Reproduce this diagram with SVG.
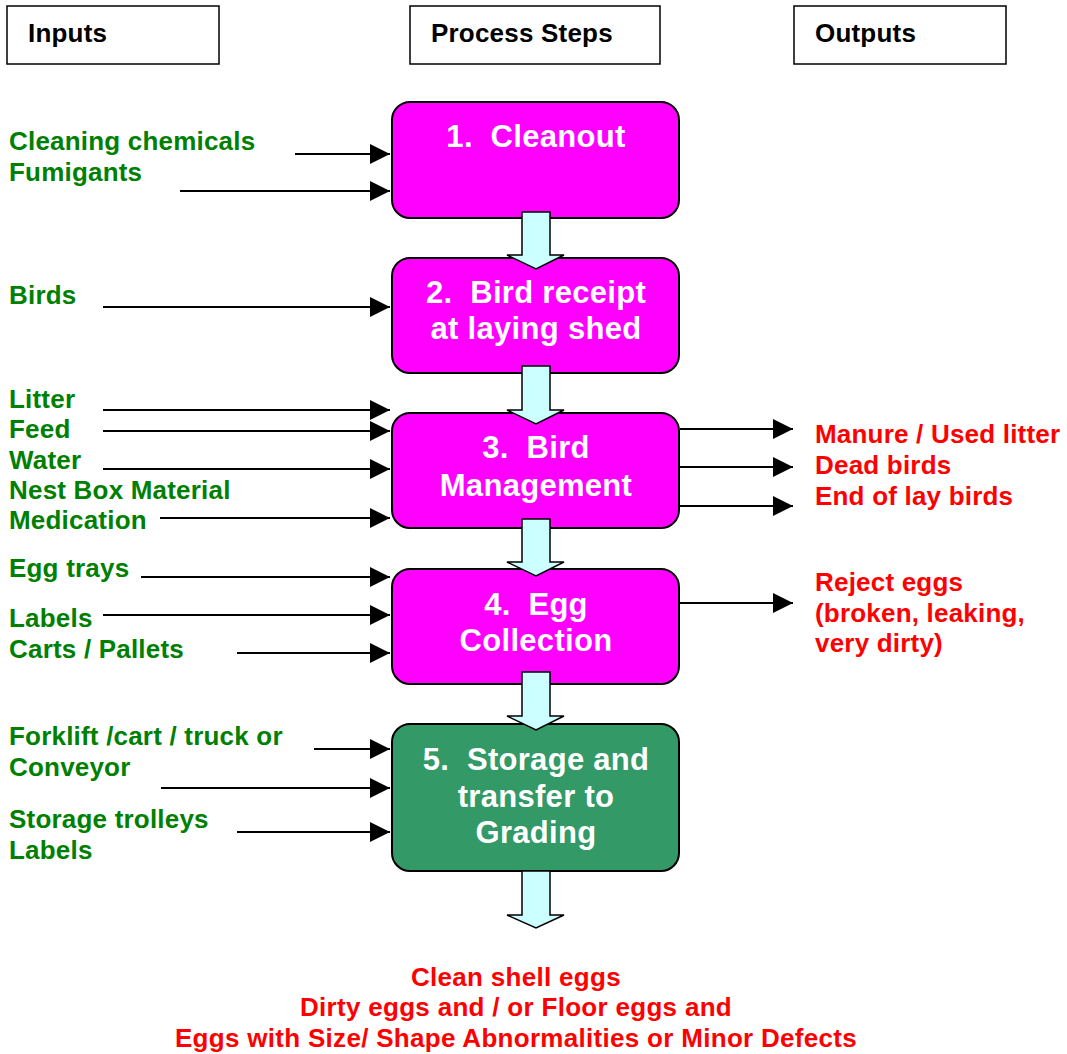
<svg xmlns="http://www.w3.org/2000/svg" width="1067" height="1054" viewBox="0 0 1067 1054">
  <style>
    text { font-family: "Liberation Sans", Arial, sans-serif; font-weight: bold; }
    .hdr-box { fill: #ffffff; stroke: #000000; stroke-width: 1.5; }
    .hdr { font-size: 26px; letter-spacing: 0.2px; fill: #000000; }
    .step { stroke: #000000; stroke-width: 2; }
    .pink { fill: #ff00ff; }
    .dkgreen { fill: #339966; }
    .step-text { font-size: 31px; letter-spacing: 0.3px; fill: #ffffff; text-anchor: middle; }
    .in { font-size: 26px; letter-spacing: 0.2px; fill: #008000; }
    .out { font-size: 26px; letter-spacing: 0.2px; fill: #ff0000; }
    .final { font-size: 26px; letter-spacing: 0.3px; fill: #ff0000; text-anchor: middle; }
    .link { stroke: #000000; stroke-width: 2; fill: none; marker-end: url(#head); }
    .flow { fill: #ccffff; stroke: #000000; stroke-width: 1.5; stroke-linejoin: miter; }
  </style>
  <defs>
    <marker id="head" markerUnits="userSpaceOnUse" markerWidth="20" markerHeight="20" refX="20" refY="10" orient="auto">
      <path d="M0,0 L20,10 L0,20 z" fill="#000000"/>
    </marker>
  </defs>

  <!-- column headings -->
  <g id="heading-inputs">
    <rect class="hdr-box" x="7" y="6" width="212" height="58"/>
    <text class="hdr" x="28" y="42">Inputs</text>
  </g>
  <g id="heading-steps">
    <rect class="hdr-box" x="410" y="6" width="250" height="58"/>
    <text class="hdr" x="431" y="42">Process Steps</text>
  </g>
  <g id="heading-outputs">
    <rect class="hdr-box" x="794" y="6" width="212" height="58"/>
    <text class="hdr" x="815" y="42">Outputs</text>
  </g>

  <!-- process steps -->
  <g id="step-1">
    <rect class="step pink" x="392" y="102" width="287" height="116" rx="18"/>
    <text class="step-text" x="536" y="147">1.&#160; Cleanout</text>
  </g>
  <g id="step-2">
    <rect class="step pink" x="392" y="258" width="287" height="115" rx="18"/>
    <text class="step-text" x="536" y="303">2.&#160; Bird receipt</text>
    <text class="step-text" x="536" y="339">at laying shed</text>
  </g>
  <g id="step-3">
    <rect class="step pink" x="392" y="413" width="287" height="115" rx="18"/>
    <text class="step-text" x="536" y="458">3.&#160; Bird</text>
    <text class="step-text" x="536" y="496">Management</text>
  </g>
  <g id="step-4">
    <rect class="step pink" x="392" y="569" width="287" height="115" rx="18"/>
    <text class="step-text" x="536" y="615">4.&#160; Egg</text>
    <text class="step-text" x="536" y="651">Collection</text>
  </g>
  <g id="step-5">
    <rect class="step dkgreen" x="392" y="724" width="287" height="147" rx="18"/>
    <text class="step-text" x="536" y="770">5.&#160; Storage and</text>
    <text class="step-text" x="536" y="807">transfer to</text>
    <text class="step-text" x="536" y="843">Grading</text>
  </g>

  <!-- inputs -->
  <g id="inputs">
    <text class="in" x="9" y="150">Cleaning chemicals</text>
    <text class="in" x="9" y="181">Fumigants</text>
    <text class="in" x="9" y="304">Birds</text>
    <text class="in" x="9" y="408">Litter</text>
    <text class="in" x="9" y="438">Feed</text>
    <text class="in" x="9" y="469">Water</text>
    <text class="in" x="9" y="499">Nest Box Material</text>
    <text class="in" x="9" y="529">Medication</text>
    <text class="in" x="9" y="577">Egg trays</text>
    <text class="in" x="9" y="627">Labels</text>
    <text class="in" x="9" y="658">Carts / Pallets</text>
    <text class="in" x="9" y="745">Forklift /cart / truck or</text>
    <text class="in" x="9" y="776">Conveyor</text>
    <text class="in" x="9" y="828">Storage trolleys</text>
    <text class="in" x="9" y="859">Labels</text>
  </g>

  <!-- outputs -->
  <g id="outputs">
    <text class="out" x="815" y="443">Manure / Used litter</text>
    <text class="out" x="815" y="474">Dead birds</text>
    <text class="out" x="815" y="505">End of lay birds</text>
    <text class="out" x="815" y="591">Reject eggs</text>
    <text class="out" x="815" y="622">(broken, leaking,</text>
    <text class="out" x="815" y="652">very dirty)</text>
  </g>

  <!-- final products -->
  <g id="final-products">
    <text class="final" x="516" y="986">Clean shell eggs</text>
    <text class="final" x="516" y="1016">Dirty eggs and / or Floor eggs and</text>
    <text class="final" x="516" y="1047">Eggs with Size/ Shape Abnormalities or Minor Defects</text>
  </g>

  <!-- connectors -->
  <g id="connectors">
    <line class="link" x1="295" y1="154" x2="390" y2="154"/>
    <line class="link" x1="180" y1="191" x2="390" y2="191"/>
    <line class="link" x1="103" y1="307" x2="390" y2="307"/>
    <line class="link" x1="103" y1="410" x2="390" y2="410"/>
    <line class="link" x1="103" y1="431" x2="390" y2="431"/>
    <line class="link" x1="103" y1="469" x2="390" y2="469"/>
    <line class="link" x1="160" y1="518" x2="390" y2="518"/>
    <line class="link" x1="141" y1="577" x2="390" y2="577"/>
    <line class="link" x1="103" y1="615" x2="390" y2="615"/>
    <line class="link" x1="237" y1="653" x2="390" y2="653"/>
    <line class="link" x1="314" y1="749" x2="390" y2="749"/>
    <line class="link" x1="161" y1="788" x2="390" y2="788"/>
    <line class="link" x1="237" y1="832" x2="390" y2="832"/>

    <line class="link" x1="680" y1="429" x2="793" y2="429"/>
    <line class="link" x1="680" y1="467" x2="793" y2="467"/>
    <line class="link" x1="680" y1="506" x2="793" y2="506"/>
    <line class="link" x1="680" y1="603" x2="793" y2="603"/>

    <polygon class="flow" points="522,212 550,212 550,255 564,255 536,269 507,255 522,255"/>
    <polygon class="flow" points="522,366 550,366 550,410 564,410 536,424 507,410 522,410"/>
    <polygon class="flow" points="522,519 550,519 550,562 564,562 536,576 507,562 522,562"/>
    <polygon class="flow" points="522,672 550,672 550,716 564,716 536,730 507,716 522,716"/>
    <polygon class="flow" points="522,871 550,871 550,915 564,915 536,928 507,915 522,915"/>
  </g>
</svg>
